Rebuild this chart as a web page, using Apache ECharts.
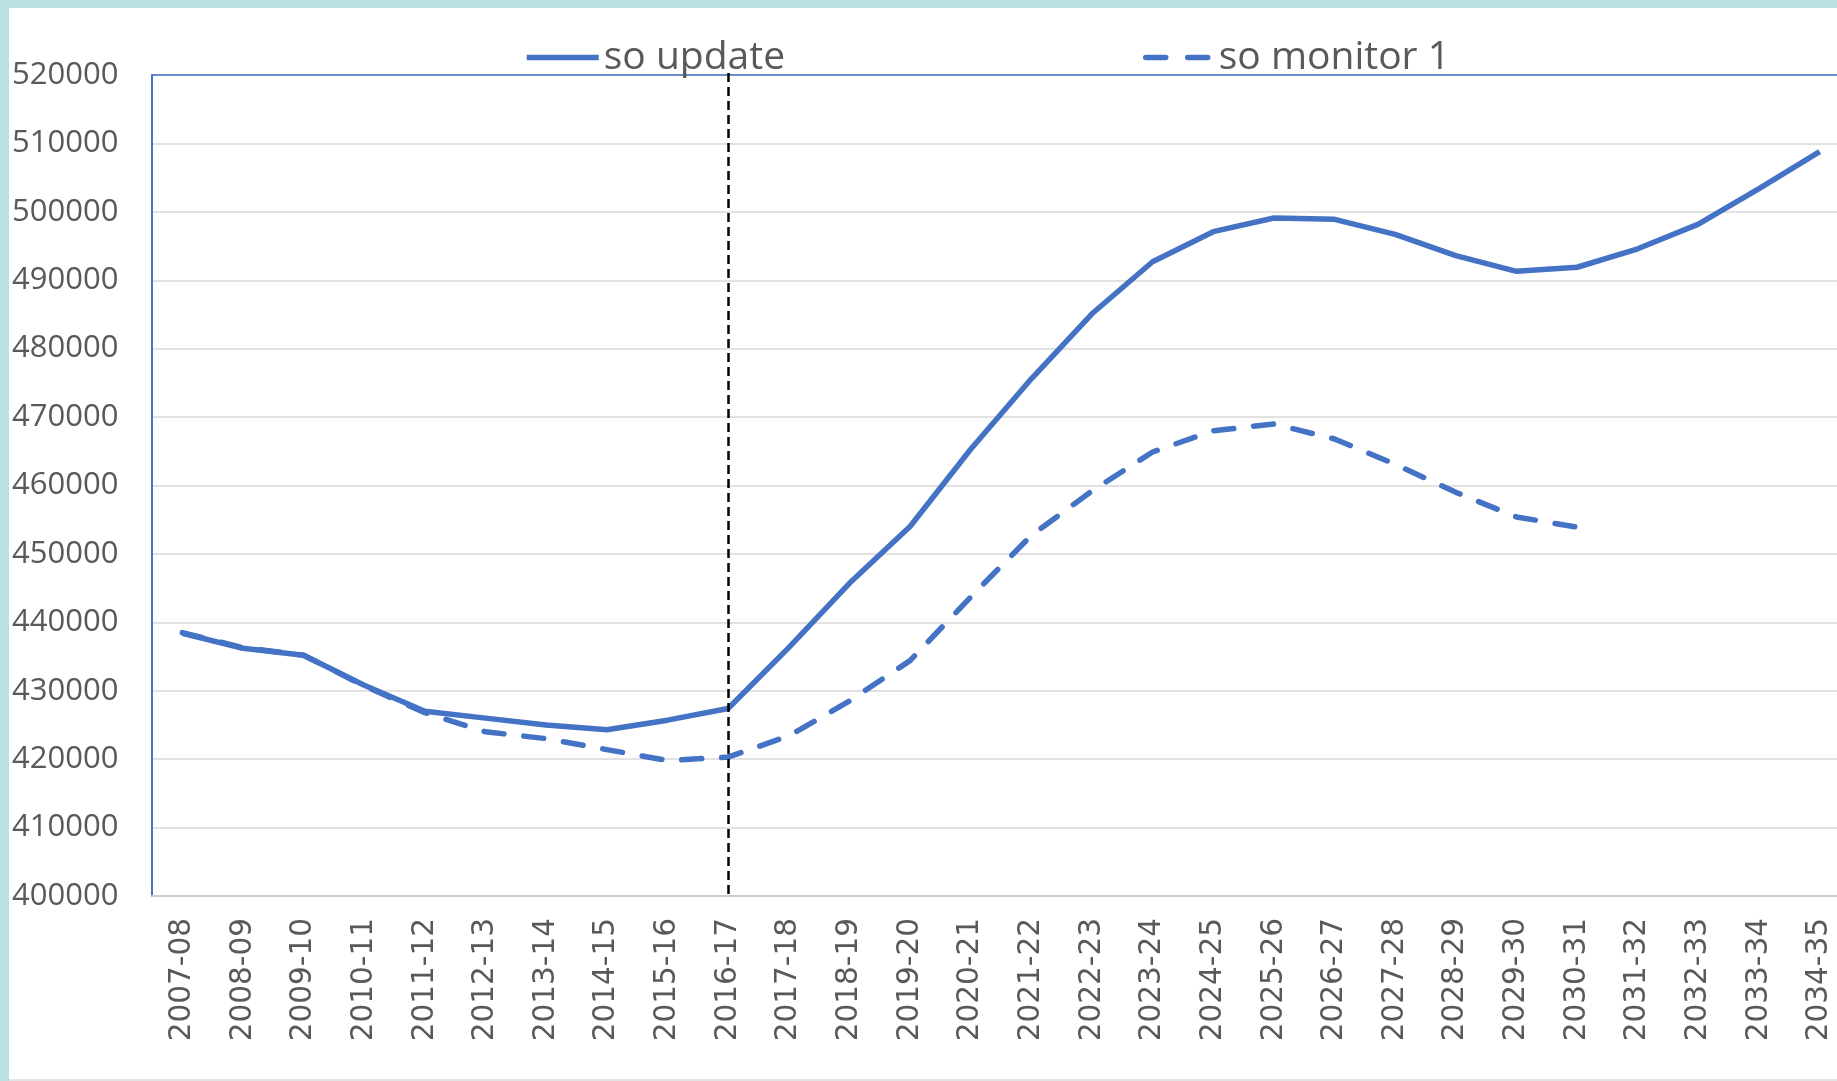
<!DOCTYPE html>
<html>
<head>
<meta charset="utf-8">
<script src="https://cdn.jsdelivr.net/npm/echarts@6/dist/echarts.min.js"></script>
<style>
html,body{margin:0;padding:0;background:#fff;overflow:hidden;width:1837px;height:1081px;}
#chart{width:1850px;height:1081px;}
</style>
</head>
<body>
<div id="chart"></div>
<script>
var categories = ['2007-08','2008-09','2009-10','2010-11','2011-12','2012-13','2013-14','2014-15','2015-16','2016-17','2017-18','2018-19','2019-20','2020-21','2021-22','2022-23','2023-24','2024-25','2025-26','2026-27','2027-28','2028-29','2029-30','2030-31','2031-32','2032-33','2033-34','2034-35'];
var soUpdate = [438400,436200,435200,430800,427000,426000,425000,424300,425700,427400,436300,445700,454000,465300,475600,485100,492700,497100,499100,498900,496700,493600,491300,491900,494600,498200,503400,508800];
var soMonitor1 = [438500,436300,435200,430700,426800,424000,423000,421400,419800,420300,423400,428500,434400,443700,452700,459200,464900,468000,469000,466800,463100,459000,455400,453900,null,null,null,null];
var seriesNames = ['so update','so monitor 1'];
var yTicks = {min:400000, max:520000, interval:10000};
var markerCategory = '2016-17';

var chart = echarts.init(document.getElementById('chart'));
var txt = '#595959', blue = '#4472C4';
var hiddenSymbol = {color:'rgba(0,0,0,0)', borderWidth:0, opacity:0};
chart.setOption({
  backgroundColor:'#ffffff',
  animation:false,
  graphic:[
    {type:'rect', shape:{x:0,y:0,width:1850,height:8}, style:{fill:'#b9e0e3'}, z:100},
    {type:'rect', shape:{x:0,y:0,width:9,height:1081}, style:{fill:'#b9e0e3'}, z:100},
    {type:'rect', shape:{x:9,y:1079,width:1841,height:2}, style:{fill:'#e3e3e3'}, z:100}
  ],
  legend:[
    {data:[seriesNames[0]], left:519, top:33, itemWidth:72, itemHeight:14, itemGap:6,
     itemStyle:hiddenSymbol, lineStyle:{width:5.5, color:blue, type:'solid'},
     textStyle:{color:txt, fontSize:39, fontFamily:'Open Sans'}},
    {data:[seriesNames[1]], left:1138, top:33, itemWidth:68, itemHeight:14, itemGap:6,
     itemStyle:hiddenSymbol, lineStyle:{width:5.5, color:blue, type:[20,22], cap:'round'},
     textStyle:{color:txt, fontSize:39, fontFamily:'Open Sans'}}
  ],
  grid:{left:152, top:75, bottom:185, right:0, containLabel:false},
  xAxis:[{
    type:'category', data:categories, boundaryGap:true,
    axisLine:{show:true, lineStyle:{color:'#c8cdd8', width:2}},
    axisTick:{show:false},
    axisLabel:{rotate:90, interval:0, margin:22, color:txt, fontSize:29.5, fontFamily:'DejaVu Sans'},
    splitLine:{show:false}
  },{
    type:'category', data:categories, position:'top', boundaryGap:true,
    axisLine:{show:true, lineStyle:{color:blue, width:1.5}},
    axisTick:{show:false}, axisLabel:{show:false}, splitLine:{show:false}
  }],
  yAxis:{
    type:'value', min:yTicks.min, max:yTicks.max, interval:yTicks.interval,
    axisLine:{show:true, lineStyle:{color:blue, width:2}},
    axisTick:{show:false},
    axisLabel:{color:txt, fontSize:31, fontFamily:'Open Sans', align:'left', margin:140,
      formatter:function(v){return String(v);}},
    splitLine:{show:true, lineStyle:{color:'#d9d9d9', width:1.5}}
  },
  series:[
    {name:seriesNames[0], type:'line', data:soUpdate, symbol:'none', smooth:false,
     lineStyle:{color:blue, width:5.5}, itemStyle:{color:blue}, z:3,
     markLine:{symbol:['none','none'], silent:true, label:{show:false},
       lineStyle:{color:'#000', width:2.5, type:[9,5]},
       data:[[{xAxis:markerCategory, y:73},{xAxis:markerCategory, yAxis:yTicks.min}]]}},
    {name:seriesNames[1], type:'line', data:soMonitor1, symbol:'none', smooth:false,
     lineStyle:{color:blue, width:5.5, type:[20,20], cap:'round'}, itemStyle:{color:blue}, z:2}
  ]
});
</script>
</body>
</html>
